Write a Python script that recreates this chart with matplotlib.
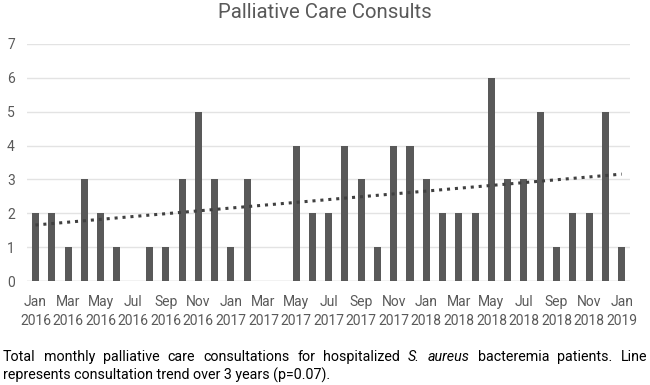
import numpy as np
import matplotlib
matplotlib.use("Agg")
from matplotlib import pyplot as plt

# monthly palliative care consults, Jan 2016 .. Jan 2019
months = ["Jan", "Feb", "Mar", "Apr", "May", "Jun",
          "Jul", "Aug", "Sep", "Oct", "Nov", "Dec"]
years = [2016, 2017, 2018, 2019]
consults = [2, 2, 1, 3, 2, 1, 0, 1, 1, 3, 5, 3,
            1, 3, 0, 0, 4, 2, 2, 4, 3, 1, 4, 4,
            3, 2, 2, 2, 6, 3, 3, 5, 1, 2, 2, 5,
            1]
title = "Palliative Care Consults"
caption_1 = ["Total", "monthly", "palliative", "care", "consultations", "for",
             "hospitalized", "S.", "aureus", "bacteremia", "patients.", "Line"]
italic_words = {"S.", "aureus"}
caption_2 = "represents consultation trend over 3 years (p=0.07)."

labels = []
for y in years:
    for m in months:
        labels.append(f"{m}\n{y}")
labels = labels[:len(consults)]

plt.rcParams["font.family"] = ["Roboto", "DejaVu Sans"]

fig = plt.figure(figsize=(6.5, 3.85), dpi=100)
ax = fig.add_axes([0.042, 0.27, 0.927, 0.616])

x = np.arange(len(consults))
ax.bar(x, consults, width=0.43, color="#595959", zorder=3)

# linear trend line
k, b = np.polyfit(x, consults, 1)
ax.plot(x, k * x + b, linestyle=(0, (1, 1.6)), color="#404040", lw=2.2, zorder=4)

ax.set_xlim(-0.5, len(consults) - 0.5)
ax.set_ylim(0, 7)
ax.set_yticks(range(8))
ax.set_xticks(x[::2])
ax.set_xticklabels(labels[::2], linespacing=1.45)
ax.grid(axis="y", color="#e3e3e3", lw=1, zorder=0)
for s in ax.spines.values():
    s.set_visible(False)
ax.axhline(0, color="#d9d9d9", lw=1, zorder=2)
ax.tick_params(length=0, colors="#595959", labelsize=10)
ax.tick_params(axis="x", pad=10)
ax.tick_params(axis="y", pad=9)

fig.text(0.5, 0.967, title, ha="center", va="center", fontsize=14.7, color="#595959")

# justified first caption line
fig.canvas.draw()
r = fig.canvas.get_renderer()
y1 = 1 - 357 / 385
texts = []
total = 0
for w in caption_1:
    t = fig.text(0, y1, w, fontsize=10.3, va="center", color="black",
                 style="italic" if w in italic_words else "normal")
    wd = t.get_window_extent(r).width
    texts.append((t, wd))
    total += wd
left, right = 3, 647
gap = (right - left - total) / (len(caption_1) - 1)
pos = left
for t, wd in texts:
    t.set_x(pos / 650)
    pos += wd + gap

fig.text(3 / 650, 1 - 375 / 385, caption_2, fontsize=10.3, va="center", color="black")

fig.savefig("out.png", dpi=100)
